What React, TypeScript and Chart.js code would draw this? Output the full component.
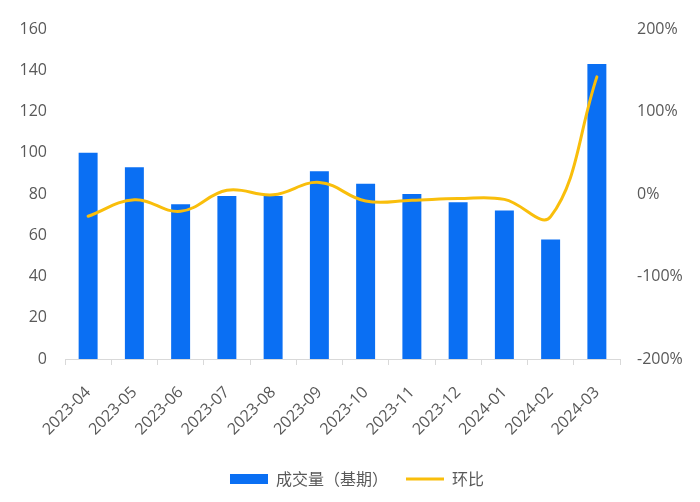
import React, { useEffect, useRef } from 'react';
import { Chart, registerables } from 'chart.js';

Chart.register(...registerables);

const categories = ['2023-04', '2023-05', '2023-06', '2023-07', '2023-08', '2023-09', '2023-10', '2023-11', '2023-12', '2024-01', '2024-02', '2024-03'];
const volumeValues = [100, 93, 75, 79, 79, 91, 85, 80, 76, 72, 58, 143];
const momValues = [-27, -7, -21, 4.5, -1, 14, -8.5, -7.5, -5.5, -6.5, -27.5, 142];
const volumeLabel = '成交量（基期）';
const momLabel = '环比';
const leftAxis = { min: 0, max: 160, step: 20 };
const rightAxis = { min: -200, max: 200, step: 100 };

const BAR_COLOR = '#0A6FF3';
const LINE_COLOR = '#F9BE0B';
const TEXT_COLOR = '#595959';
const AXIS_COLOR = '#D9D9D9';
const FONT = '"Open Sans", "Noto Sans CJK SC", sans-serif';

export default function App() {
  const ref = useRef<HTMLCanvasElement | null>(null);

  useEffect(() => {
    if (!ref.current) return;
    const chart = new Chart(ref.current, {
      type: 'bar',
      data: {
        labels: categories,
        datasets: [
          {
            type: 'bar',
            label: volumeLabel,
            data: volumeValues,
            backgroundColor: BAR_COLOR,
            borderWidth: 0,
            barPercentage: 0.41,
            categoryPercentage: 1,
            yAxisID: 'y',
            order: 1,
            pointStyle: 'rect',
          } as any,
          {
            type: 'line',
            label: momLabel,
            data: momValues,
            borderColor: LINE_COLOR,
            backgroundColor: LINE_COLOR,
            borderWidth: 3,
            borderCapStyle: 'round',
            tension: 0.4,
            pointRadius: 0,
            pointHoverRadius: 0,
            yAxisID: 'y1',
            order: 0,
            pointStyle: 'line',
          } as any,
        ],
      },
      options: {
        animation: false,
        responsive: false,
        maintainAspectRatio: false,
        layout: { padding: { top: 29, left: 14, right: 0, bottom: 5 } },
        plugins: {
          tooltip: { enabled: false },
          legend: {
            position: 'bottom',
            labels: {
              usePointStyle: true,
              pointStyleWidth: 38,
              boxHeight: 10,
              padding: 18,
              color: TEXT_COLOR,
              font: { family: '"Noto Sans CJK SC", sans-serif', size: 16 },
              sort: (a: any, b: any) => a.datasetIndex - b.datasetIndex,
            },
          },
        },
        scales: {
          x: {
            offset: true,
            grid: {
              display: true,
              drawOnChartArea: false,
              drawTicks: true,
              tickLength: 6,
              color: AXIS_COLOR,
              offset: true,
            },
            border: { display: true, color: AXIS_COLOR },
            ticks: {
              autoSkip: false,
              maxRotation: 45,
              minRotation: 45,
              color: TEXT_COLOR,
              font: { family: FONT, size: 16 },
              padding: 18,
            },
            afterFit: (s: any) => {
              s.height = 94;
            },
          },
          y: {
            position: 'left',
            min: leftAxis.min,
            max: leftAxis.max,
            grid: { display: false, drawTicks: false },
            border: { display: false },
            ticks: {
              stepSize: leftAxis.step,
              color: TEXT_COLOR,
              font: { family: FONT, size: 16 },
              padding: 18,
            },
            afterFit: (s: any) => {
              s.width = 51;
            },
          },
          y1: {
            position: 'right',
            min: rightAxis.min,
            max: rightAxis.max,
            grid: { display: false, drawTicks: false },
            border: { display: false },
            ticks: {
              stepSize: rightAxis.step,
              color: TEXT_COLOR,
              font: { family: FONT, size: 16 },
              padding: 17,
              callback: (v: any) => `${v}%`,
            },
            afterFit: (s: any) => {
              s.width = 80;
            },
          },
        },
      },
    });
    return () => chart.destroy();
  }, []);

  return (
    <div style={{ position: 'fixed', left: 0, top: 0, width: 700, height: 502, background: '#fff' }}>
      <canvas ref={ref} width={700} height={502} style={{ width: 700, height: 502 }} />
    </div>
  );
}
